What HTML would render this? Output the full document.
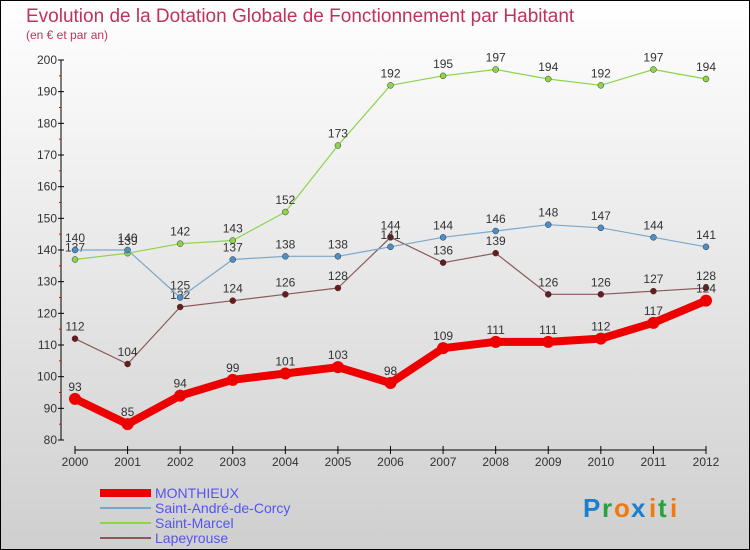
<!DOCTYPE html>
<html><head><meta charset="utf-8"><style>
body{margin:0}
svg{display:block;font-family:"Liberation Sans",sans-serif}
</style></head><body>
<svg id="c" width="750" height="550" viewBox="0 0 750 550">
<defs><linearGradient id="bg" x1="0" y1="0" x2="0" y2="1"><stop offset="0" stop-color="#ffffff"/><stop offset="1" stop-color="#cfcfcf"/></linearGradient></defs>
<rect x="0.5" y="0.5" width="749" height="549" fill="url(#bg)" stroke="#000"/>
<text x="26" y="22" font-size="19" fill="#c0325a">Evolution de la Dotation Globale de Fonctionnement par Habitant</text>
<text x="26" y="39" font-size="12" fill="#c0325a">(en € et par an)</text>
<g id="axes"></g>
<g id="series"></g>
<g id="legend"></g>
<g font-size="26" font-weight="bold">
<text x="583" y="517" fill="#1b7fd0">P</text><text x="602" y="517" fill="#2aa040">r</text><text x="614" y="517" fill="#f07a10">o</text><text x="631" y="517" fill="#1b7fd0">x</text><text x="649" y="517" fill="#f07a10">i</text><text x="658" y="517" fill="#2aa040">t</text><text x="670" y="517" fill="#f07a10">i</text>
</g>
</svg>
<script>
const years=[2000,2001,2002,2003,2004,2005,2006,2007,2008,2009,2010,2011,2012];
const monthieux=[93,85,94,99,101,103,98,109,111,111,112,117,124];
const saintAndre=[140,140,125,137,138,138,141,144,146,148,147,144,141];
const saintMarcel=[137,139,142,143,152,173,192,195,197,194,192,197,194];
const lapeyrouse=[112,104,122,124,126,128,144,136,139,126,126,127,128];
const yTicks=[80,90,100,110,120,130,140,150,160,170,180,190,200];
const NS="http://www.w3.org/2000/svg";
const x=i=>75+i*(706-75)/(years.length-1);
const y=v=>440-(v-80)*(380/120);
function mk(t,a,p){const e=document.createElementNS(NS,t);for(const k in a)e.setAttribute(k,a[k]);p.appendChild(e);return e;}
const ax=document.getElementById('axes');
let l=mk('line',{x1:61,y1:y(200),x2:61,y2:y(80),stroke:'#000'},ax);


yTicks.forEach((v,k)=>{
 mk('line',{x1:58,y1:y(v),x2:64,y2:y(v),stroke:'#000'},ax);
 if(k<yTicks.length-1) mk('line',{x1:59,y1:y(v+5),x2:61,y2:y(v+5),stroke:'#e00'},ax);
 const t=mk('text',{x:57,y:y(v)+4,'text-anchor':'end','font-size':12,fill:'#333'},ax);t.textContent=v;
 
 
});
l=mk('line',{x1:x(0),y1:450,x2:x(12),y2:450,stroke:'#000'},ax);


years.forEach((yr,i)=>{
 mk('line',{x1:x(i),y1:446,x2:x(i),y2:454,stroke:'#000'},ax);
 const t=mk('text',{x:x(i),y:466,'text-anchor':'middle','font-size':12,fill:'#333'},ax);t.textContent=yr;
 
 
});
const sg=document.getElementById('series');
const defs=[
 {d:lapeyrouse,c:'#6b1a1e',lc:'#8a5a5a',w:1.2,r:3,n:'lapeyrouse',label:'Lapeyrouse'},
 {d:saintMarcel,c:'#8cd44a',lc:'#8cd44a',w:1.2,r:3,n:'saint-marcel',label:'Saint-Marcel'},
 {d:saintAndre,c:'#4a8fc8',lc:'#7aa8cc',w:1.2,r:3,n:'saint-andre-de-corcy',label:'Saint-André-de-Corcy'},
 {d:monthieux,c:'#ee0000',lc:'#ee0000',w:8,r:6,n:'monthieux',label:'MONTHIEUX'}
];
defs.forEach(s=>{
 const g=mk('g',{},sg);
 
 
 const p=mk('polyline',{points:s.d.map((v,i)=>x(i)+','+y(v)).join(' '),fill:'none',stroke:s.lc,'stroke-width':s.w,'stroke-linejoin':'round'},g);
 
 
 s.d.forEach((v,i)=>{
  const c=mk('circle',{cx:x(i),cy:y(v),r:s.r,fill:s.c,stroke:s.w>2?'none':'#333','stroke-width':0.5},g);
  
  
  const t=mk('text',{x:x(i),y:y(v)-8,'text-anchor':'middle','font-size':12,fill:'#333'},g);t.textContent=v;
  
  
 });
});
const lg=document.getElementById('legend');
[defs[3],defs[2],defs[1],defs[0]].forEach((s,i)=>{
 const yy=493+i*15;
 const g=mk('g',{},lg);
 
 
 mk('line',{x1:100,y1:yy,x2:151,y2:yy,stroke:s.lc,'stroke-width':s.w>2?8:2},g);
 const t=mk('text',{x:155,y:yy+5,'font-size':14,fill:'#5555ee'},g);t.textContent=s.label;
});
</script>
</body></html>
